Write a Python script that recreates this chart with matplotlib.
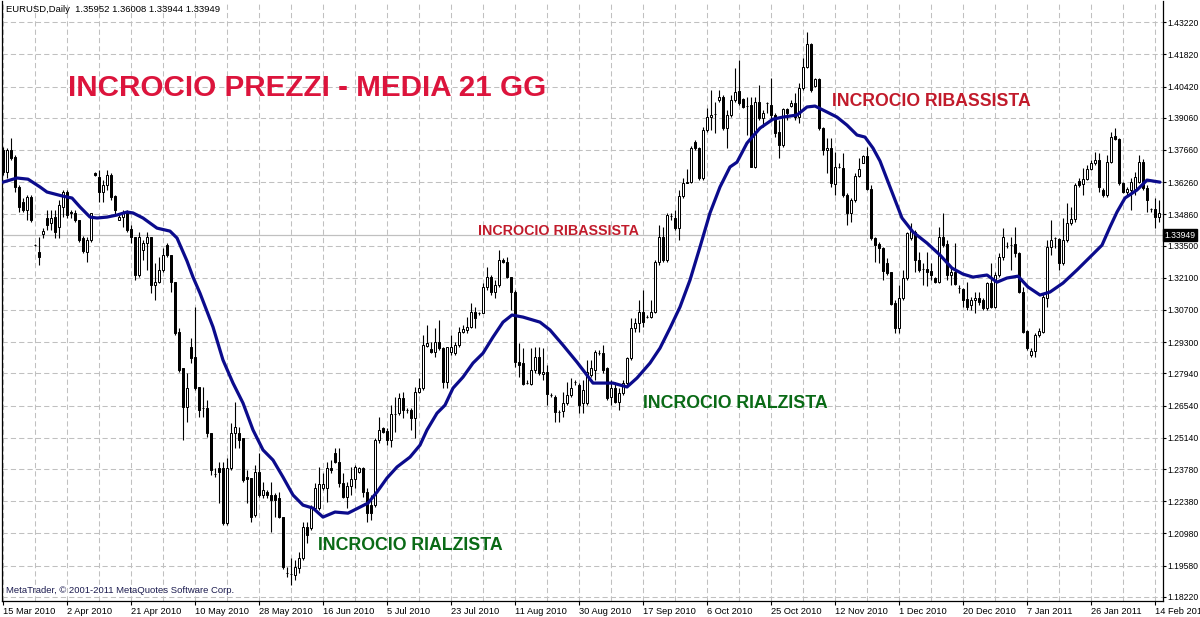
import matplotlib.pyplot as plt
from matplotlib import rcParams
from matplotlib.ticker import FixedLocator, MultipleLocator

rcParams['font.family'] = ['Liberation Sans', 'DejaVu Sans']

# EURUSD daily, one bar per trading day (15 Mar 2010 - 14 Feb 2011)
opens = [
    1.3766, 1.3670, 1.3766, 1.3735, 1.3605, 1.3539, 1.3505, 1.3561, 1.3352, 1.3322,
    1.3400, 1.3470, 1.3448, 1.3474, 1.3431, 1.3518, 1.3583, 1.3496, 1.3492, 1.3461,
    1.3383, 1.3322, 1.3374, 1.3666, 1.3648, 1.3583, 1.3613, 1.3657, 1.3565, 1.3461,
    1.3474, 1.3496, 1.3422, 1.3387, 1.3222, 1.3331, 1.3361, 1.3387, 1.3178, 1.3191,
    1.3244, 1.3352, 1.3309, 1.3191, 1.2974, 1.2817, 1.2648, 1.2909, 1.2865, 1.2735,
    1.2643, 1.2643, 1.2535, 1.2356, 1.2382, 1.2382, 1.2143, 1.2382, 1.2535, 1.2535,
    1.2513, 1.2343, 1.2339, 1.2178, 1.2365, 1.2265, 1.2278, 1.2265, 1.2265, 1.2252,
    1.2169, 1.1926, 1.1921, 1.1917, 1.1947, 1.1991, 1.2126, 1.2121, 1.2208, 1.2208,
    1.2295, 1.2295, 1.2382, 1.2448, 1.2408, 1.2317, 1.2256, 1.2304, 1.2334, 1.2365,
    1.2382, 1.2278, 1.2221, 1.2221, 1.2504, 1.2556, 1.2543, 1.2504, 1.2617, 1.2622,
    1.2687, 1.2635, 1.2635, 1.2600, 1.2713, 1.2730, 1.2913, 1.2900, 1.2887, 1.2930,
    1.2904, 1.2756, 1.2887, 1.2883, 1.2917, 1.2974, 1.2983, 1.2996, 1.3061, 1.3057,
    1.3057, 1.3170, 1.3213, 1.3148, 1.3178, 1.3287, 1.3278, 1.3213, 1.3148, 1.2843,
    1.2839, 1.2752, 1.2748, 1.2809, 1.2865, 1.2791, 1.2800, 1.2700, 1.2691, 1.2626,
    1.2630, 1.2665, 1.2700, 1.2756, 1.2743, 1.2665, 1.2665, 1.2787, 1.2809, 1.2883,
    1.2883, 1.2817, 1.2691, 1.2730, 1.2669, 1.2709, 1.2752, 1.2861, 1.2991, 1.3013,
    1.3061, 1.3039, 1.3039, 1.3061, 1.3278, 1.3387, 1.3287, 1.3478, 1.3470, 1.3426,
    1.3565, 1.3622, 1.3626, 1.3800, 1.3774, 1.3644, 1.3853, 1.3909, 1.3922, 1.3983,
    1.3996, 1.3861, 1.3918, 1.3983, 1.4022, 1.3987, 1.3957, 1.3961, 1.3692, 1.3974,
    1.3905, 1.3970, 1.3961, 1.3918, 1.3844, 1.3787, 1.3944, 1.3957, 1.3970, 1.3909,
    1.4035, 1.4127, 1.4227, 1.4044, 1.4074, 1.3861, 1.3766, 1.3774, 1.3618, 1.3692,
    1.3687, 1.3570, 1.3492, 1.3548, 1.3652, 1.3709, 1.3739, 1.3596, 1.3383, 1.3357,
    1.3339, 1.3274, 1.3235, 1.3100, 1.2991, 1.3122, 1.3209, 1.3383, 1.3409, 1.3287,
    1.3248, 1.3248, 1.3239, 1.3209, 1.3191, 1.3387, 1.3357, 1.3222, 1.3235, 1.3165,
    1.3161, 1.3117, 1.3091, 1.3113, 1.3122, 1.3113, 1.3078, 1.3187, 1.3083, 1.3222,
    1.3300, 1.3348, 1.3352, 1.3357, 1.3318, 1.3148, 1.2978, 1.2874, 1.2891, 1.2961,
    1.2974, 1.3122, 1.3344, 1.3383, 1.3378, 1.3274, 1.3374, 1.3448, 1.3465, 1.3631,
    1.3618, 1.3639, 1.3683, 1.3709, 1.3722, 1.3592, 1.3570, 1.3713, 1.3827, 1.3813,
    1.3622, 1.3583, 1.3592, 1.3596, 1.3626, 1.3713, 1.3600, 1.3509, 1.3509, 1.3474,
]
highs = [
    1.3779, 1.3774, 1.3818, 1.3744, 1.3613, 1.3557, 1.3570, 1.3570, 1.3357, 1.3387,
    1.3426, 1.3505, 1.3505, 1.3505, 1.3548, 1.3592, 1.3592, 1.3505, 1.3505, 1.3461,
    1.3391, 1.3387, 1.3492, 1.3670, 1.3679, 1.3635, 1.3679, 1.3666, 1.3570, 1.3492,
    1.3505, 1.3505, 1.3439, 1.3387, 1.3409, 1.3374, 1.3409, 1.3387, 1.3274, 1.3300,
    1.3339, 1.3361, 1.3309, 1.3191, 1.2991, 1.2817, 1.2796, 1.2948, 1.3083, 1.2735,
    1.2735, 1.2678, 1.2535, 1.2382, 1.2408, 1.2408, 1.2426, 1.2578, 1.2669, 1.2561,
    1.2513, 1.2374, 1.2339, 1.2395, 1.2448, 1.2321, 1.2287, 1.2321, 1.2274, 1.2278,
    1.2169, 1.1952, 1.1991, 1.1982, 1.2017, 1.2147, 1.2147, 1.2221, 1.2317, 1.2387,
    1.2361, 1.2408, 1.2417, 1.2469, 1.2469, 1.2361, 1.2321, 1.2387, 1.2395, 1.2387,
    1.2387, 1.2295, 1.2265, 1.2513, 1.2604, 1.2561, 1.2556, 1.2656, 1.2691, 1.2709,
    1.2713, 1.2643, 1.2643, 1.2735, 1.2774, 1.2961, 1.3004, 1.2930, 1.2991, 1.3026,
    1.2909, 1.2909, 1.2961, 1.2930, 1.2996, 1.3004, 1.3039, 1.3100, 1.3083, 1.3061,
    1.3187, 1.3257, 1.3222, 1.3200, 1.3331, 1.3296, 1.3300, 1.3213, 1.3157, 1.2926,
    1.2904, 1.2765, 1.2904, 1.2909, 1.2909, 1.2904, 1.2830, 1.2709, 1.2700, 1.2635,
    1.2713, 1.2756, 1.2774, 1.2765, 1.2752, 1.2765, 1.2852, 1.2852, 1.2896, 1.2896,
    1.2917, 1.2822, 1.2765, 1.2756, 1.2730, 1.2765, 1.2865, 1.3035, 1.3035, 1.3113,
    1.3157, 1.3048, 1.3113, 1.3287, 1.3439, 1.3431, 1.3492, 1.3492, 1.3505, 1.3592,
    1.3644, 1.3683, 1.3783, 1.3809, 1.3779, 1.3866, 1.3948, 1.4027, 1.3974, 1.4027,
    1.4005, 1.3940, 1.4005, 1.4122, 1.4157, 1.3991, 1.3996, 1.3996, 1.3996, 1.4048,
    1.3940, 1.3974, 1.4079, 1.3927, 1.3896, 1.3948, 1.3948, 1.3983, 1.4014, 1.4057,
    1.4166, 1.4279, 1.4231, 1.4079, 1.4079, 1.3866, 1.3818, 1.3818, 1.3757, 1.3709,
    1.3753, 1.3579, 1.3557, 1.3666, 1.3731, 1.3744, 1.3779, 1.3613, 1.3387, 1.3365,
    1.3344, 1.3296, 1.3235, 1.3113, 1.3178, 1.3244, 1.3409, 1.3448, 1.3418, 1.3322,
    1.3274, 1.3322, 1.3274, 1.3213, 1.3431, 1.3492, 1.3374, 1.3257, 1.3361, 1.3178,
    1.3165, 1.3191, 1.3126, 1.3148, 1.3148, 1.3122, 1.3191, 1.3274, 1.3235, 1.3318,
    1.3426, 1.3365, 1.3387, 1.3431, 1.3322, 1.3170, 1.2983, 1.2904, 1.2970, 1.2991,
    1.3144, 1.3374, 1.3461, 1.3387, 1.3383, 1.3470, 1.3535, 1.3518, 1.3622, 1.3644,
    1.3687, 1.3700, 1.3722, 1.3757, 1.3753, 1.3600, 1.3744, 1.3844, 1.3861, 1.3818,
    1.3626, 1.3605, 1.3644, 1.3670, 1.3744, 1.3726, 1.3613, 1.3513, 1.3557, 1.3548,
]
lows = [
    1.3657, 1.3644, 1.3722, 1.3583, 1.3496, 1.3496, 1.3461, 1.3452, 1.3348, 1.3265,
    1.3383, 1.3418, 1.3418, 1.3383, 1.3383, 1.3474, 1.3470, 1.3470, 1.3452, 1.3365,
    1.3318, 1.3278, 1.3365, 1.3652, 1.3539, 1.3539, 1.3592, 1.3548, 1.3483, 1.3461,
    1.3431, 1.3409, 1.3361, 1.3200, 1.3213, 1.3287, 1.3244, 1.3144, 1.3113, 1.3187,
    1.3235, 1.3300, 1.3148, 1.2961, 1.2800, 1.2504, 1.2582, 1.2839, 1.2722, 1.2604,
    1.2604, 1.2517, 1.2352, 1.2343, 1.2230, 1.2134, 1.2134, 1.2374, 1.2469, 1.2469,
    1.2321, 1.2230, 1.2147, 1.2169, 1.2256, 1.2252, 1.2252, 1.2104, 1.2169, 1.2165,
    1.1943, 1.1908, 1.1873, 1.1895, 1.1926, 1.1982, 1.2056, 1.2113, 1.2200, 1.2200,
    1.2287, 1.2234, 1.2361, 1.2404, 1.2300, 1.2252, 1.2208, 1.2265, 1.2295, 1.2361,
    1.2256, 1.2147, 1.2156, 1.2213, 1.2491, 1.2535, 1.2482, 1.2474, 1.2539, 1.2613,
    1.2600, 1.2622, 1.2548, 1.2513, 1.2709, 1.2722, 1.2909, 1.2883, 1.2865, 1.2896,
    1.2730, 1.2730, 1.2874, 1.2874, 1.2909, 1.2970, 1.2970, 1.2991, 1.2991, 1.3048,
    1.3057, 1.3157, 1.3135, 1.3122, 1.3170, 1.3274, 1.3209, 1.3070, 1.2822, 1.2778,
    1.2743, 1.2748, 1.2743, 1.2796, 1.2787, 1.2765, 1.2656, 1.2691, 1.2582, 1.2582,
    1.2604, 1.2656, 1.2691, 1.2743, 1.2622, 1.2622, 1.2656, 1.2778, 1.2765, 1.2874,
    1.2796, 1.2678, 1.2656, 1.2665, 1.2635, 1.2700, 1.2743, 1.2852, 1.2974, 1.2974,
    1.2996, 1.3035, 1.3035, 1.3057, 1.3265, 1.3278, 1.3278, 1.3461, 1.3418, 1.3374,
    1.3557, 1.3622, 1.3622, 1.3766, 1.3635, 1.3635, 1.3844, 1.3853, 1.3840, 1.3974,
    1.3853, 1.3774, 1.3909, 1.3974, 1.3961, 1.3948, 1.3831, 1.3692, 1.3687, 1.3896,
    1.3866, 1.3927, 1.3896, 1.3822, 1.3731, 1.3779, 1.3896, 1.3953, 1.3896, 1.3883,
    1.4027, 1.4122, 1.4018, 1.4040, 1.3853, 1.3744, 1.3666, 1.3605, 1.3570, 1.3687,
    1.3561, 1.3439, 1.3452, 1.3539, 1.3648, 1.3709, 1.3592, 1.3374, 1.3278, 1.3274,
    1.3200, 1.3222, 1.3091, 1.2970, 1.2970, 1.3113, 1.3200, 1.3374, 1.3235, 1.3235,
    1.3178, 1.3174, 1.3200, 1.3187, 1.3187, 1.3344, 1.3200, 1.3178, 1.3178, 1.3144,
    1.3083, 1.3070, 1.3070, 1.3057, 1.3091, 1.3070, 1.3070, 1.3078, 1.3078, 1.3213,
    1.3287, 1.3339, 1.3244, 1.3300, 1.3144, 1.2970, 1.2896, 1.2865, 1.2865, 1.2953,
    1.2970, 1.3083, 1.3309, 1.3339, 1.3244, 1.3265, 1.3365, 1.3439, 1.3452, 1.3605,
    1.3570, 1.3635, 1.3679, 1.3700, 1.3583, 1.3561, 1.3561, 1.3709, 1.3809, 1.3613,
    1.3579, 1.3570, 1.3505, 1.3570, 1.3622, 1.3592, 1.3496, 1.3496, 1.3426, 1.3452,
]
closes = [
    1.3670, 1.3766, 1.3731, 1.3605, 1.3518, 1.3505, 1.3561, 1.3461, 1.3352, 1.3300,
    1.3413, 1.3439, 1.3470, 1.3409, 1.3526, 1.3583, 1.3483, 1.3492, 1.3461, 1.3374,
    1.3326, 1.3374, 1.3492, 1.3657, 1.3583, 1.3613, 1.3657, 1.3561, 1.3505, 1.3474,
    1.3496, 1.3418, 1.3387, 1.3222, 1.3387, 1.3361, 1.3387, 1.3178, 1.3191, 1.3244,
    1.3309, 1.3309, 1.3191, 1.2970, 1.2809, 1.2648, 1.2730, 1.2861, 1.2730, 1.2635,
    1.2643, 1.2535, 1.2374, 1.2356, 1.2365, 1.2143, 1.2382, 1.2535, 1.2561, 1.2504,
    1.2330, 1.2334, 1.2169, 1.2365, 1.2265, 1.2287, 1.2265, 1.2243, 1.2243, 1.2169,
    1.1952, 1.1926, 1.1921, 1.1952, 1.1991, 1.2126, 1.2091, 1.2208, 1.2295, 1.2313,
    1.2313, 1.2382, 1.2374, 1.2408, 1.2317, 1.2256, 1.2304, 1.2334, 1.2387, 1.2382,
    1.2278, 1.2187, 1.2187, 1.2504, 1.2548, 1.2539, 1.2504, 1.2617, 1.2617, 1.2687,
    1.2635, 1.2635, 1.2600, 1.2713, 1.2730, 1.2917, 1.2926, 1.2887, 1.2930, 1.2904,
    1.2756, 1.2909, 1.2909, 1.2917, 1.2974, 1.2987, 1.2996, 1.3061, 1.3035, 1.3057,
    1.3170, 1.3213, 1.3148, 1.3178, 1.3287, 1.3278, 1.3213, 1.3148, 1.2843, 1.2830,
    1.2748, 1.2752, 1.2809, 1.2865, 1.2796, 1.2800, 1.2704, 1.2700, 1.2626, 1.2626,
    1.2665, 1.2700, 1.2730, 1.2756, 1.2656, 1.2722, 1.2800, 1.2817, 1.2887, 1.2883,
    1.2809, 1.2687, 1.2730, 1.2669, 1.2709, 1.2752, 1.2861, 1.2991, 1.3013, 1.3061,
    1.3017, 1.3039, 1.3061, 1.3278, 1.3387, 1.3287, 1.3483, 1.3478, 1.3426, 1.3565,
    1.3622, 1.3626, 1.3774, 1.3774, 1.3644, 1.3853, 1.3909, 1.3918, 1.3922, 1.3996,
    1.3861, 1.3918, 1.3983, 1.4018, 1.3970, 1.3953, 1.3957, 1.3692, 1.3974, 1.3905,
    1.3927, 1.3970, 1.3918, 1.3840, 1.3787, 1.3944, 1.3927, 1.3970, 1.3909, 1.4035,
    1.4127, 1.4227, 1.4027, 1.4074, 1.3861, 1.3766, 1.3774, 1.3622, 1.3692, 1.3692,
    1.3570, 1.3492, 1.3548, 1.3652, 1.3683, 1.3739, 1.3596, 1.3383, 1.3352, 1.3339,
    1.3239, 1.3231, 1.3096, 1.2991, 1.3122, 1.3209, 1.3405, 1.3413, 1.3287, 1.3244,
    1.3248, 1.3235, 1.3222, 1.3191, 1.3387, 1.3352, 1.3222, 1.3235, 1.3183, 1.3165,
    1.3113, 1.3083, 1.3113, 1.3122, 1.3104, 1.3078, 1.3187, 1.3083, 1.3222, 1.3300,
    1.3387, 1.3348, 1.3352, 1.3318, 1.3148, 1.2974, 1.2904, 1.2891, 1.2961, 1.2978,
    1.3126, 1.3344, 1.3374, 1.3383, 1.3274, 1.3374, 1.3448, 1.3465, 1.3613, 1.3613,
    1.3639, 1.3683, 1.3709, 1.3722, 1.3605, 1.3570, 1.3713, 1.3822, 1.3813, 1.3622,
    1.3583, 1.3596, 1.3626, 1.3648, 1.3713, 1.3600, 1.3548, 1.3509, 1.3474, 1.3492,
]

# media mobile 21 gg (posizione in barre, valore)
ma_bars = [
    0.0, 3.5, 6.25, 9.25, 11.0, 15.0, 17.25, 19.25, 21.75, 23.5,
    26.0, 28.5, 31.0, 32.5, 35.0, 38.5, 41.75, 43.5, 46.0, 47.5,
    49.25, 52.5, 55.0, 57.5, 60.0, 62.5, 65.0, 67.5, 70.0, 72.5,
    75.0, 77.5, 80.0, 83.0, 86.25, 88.75, 91.25, 93.5, 96.0, 98.5,
    101.75, 104.25, 106.0, 108.5, 110.5, 112.5, 115.0, 117.5, 120.0, 122.5,
    125.0, 127.25, 130.0, 134.25, 136.75, 140.0, 143.5, 147.5, 152.5, 156.0,
    158.5, 161.75, 164.25, 166.75, 169.25, 171.75, 174.25, 176.75, 179.25, 181.75,
    183.5, 186.0, 189.25, 192.5, 195.0, 198.5, 201.0, 203.0, 206.0, 208.5,
    211.0, 213.5, 215.5, 217.5, 219.25, 221.75, 224.75, 227.5, 231.0, 234.25,
    237.25, 240.0, 242.5, 246.0, 248.5, 251.0, 253.75, 256.25, 259.25, 261.75,
    265.0, 268.5, 271.75, 274.75, 276.75, 278.5, 280.5, 283.5, 286.0, 289.25,
]
ma_values = [
    1.3626, 1.3644, 1.3639, 1.3605, 1.3583, 1.3565, 1.3557, 1.3518, 1.3474, 1.3470,
    1.3474, 1.3483, 1.3496, 1.3492, 1.3470, 1.3426, 1.3413, 1.3383, 1.3283, 1.3213,
    1.3143, 1.2996, 1.2852, 1.2752, 1.2665, 1.2548, 1.2461, 1.2417, 1.2343, 1.2265,
    1.2221, 1.2208, 1.2169, 1.2191, 1.2186, 1.2208, 1.2230, 1.2278, 1.2339, 1.2387,
    1.2430, 1.2482, 1.2548, 1.2621, 1.2656, 1.2730, 1.2778, 1.2839, 1.2882, 1.2952,
    1.3017, 1.3048, 1.3039, 1.3017, 1.2983, 1.2917, 1.2843, 1.2752, 1.2752, 1.2735,
    1.2774, 1.2839, 1.2904, 1.2991, 1.3083, 1.3200, 1.3344, 1.3492, 1.3605, 1.3692,
    1.3713, 1.3796, 1.3861, 1.3900, 1.3909, 1.3918, 1.3953, 1.3957, 1.3931, 1.3909,
    1.3874, 1.3831, 1.3822, 1.3774, 1.3718, 1.3605, 1.3470, 1.3409, 1.3361, 1.3309,
    1.3252, 1.3226, 1.3213, 1.3222, 1.3191, 1.3209, 1.3217, 1.3170, 1.3135, 1.3148,
    1.3187, 1.3244, 1.3300, 1.3352, 1.3431, 1.3496, 1.3557, 1.3592, 1.3635, 1.3626,
]

# etichette assi
date_bars = list(range(0, 289, 16))
date_labels = ['15 Mar 2010', '2 Apr 2010', '21 Apr 2010', '10 May 2010', '28 May 2010',
               '16 Jun 2010', '5 Jul 2010', '23 Jul 2010', '11 Aug 2010', '30 Aug 2010',
               '17 Sep 2010', '6 Oct 2010', '25 Oct 2010', '12 Nov 2010', '1 Dec 2010',
               '20 Dec 2010', '7 Jan 2011', '26 Jan 2011', '14 Feb 2011']
price_ticks = [1.43220, 1.41820, 1.40420, 1.39060, 1.37660, 1.36260, 1.34860, 1.33500,
               1.32100, 1.30700, 1.29300, 1.27940, 1.26540, 1.25140, 1.23780, 1.22380,
               1.20980, 1.19580, 1.18220]
bid = 1.33949

fig = plt.figure(figsize=(12, 6.17), dpi=100)
ax = fig.add_axes([2 / 1200, 16 / 617, 1161 / 1200, 600 / 617])

idx = list(range(len(closes)))
body_bottom = [min(o, c) for o, c in zip(opens, closes)]
body_height = [abs(c - o) for o, c in zip(opens, closes)]
body_color = ['white' if c >= o else 'black' for o, c in zip(opens, closes)]

# candele
ax.vlines(idx, lows, highs, color='black', linewidth=0.8, zorder=2)
ax.bar(idx, body_height, bottom=body_bottom, width=0.55, color=body_color,
       edgecolor='black', linewidth=0.72, zorder=3)

# media mobile
ax.plot(ma_bars, ma_values, color='#0B0B8C', linewidth=2.3, zorder=4,
        solid_joinstyle='round', solid_capstyle='round')

# linea del prezzo corrente
ax.axhline(bid, color='#C0C0C0', linewidth=0.9, zorder=1)
ax.text(1.001, bid, '%.5f' % bid, transform=ax.get_yaxis_transform(), color='white',
        fontsize=6.2, va='center', ha='left', clip_on=False,
        bbox=dict(facecolor='black', edgecolor='black', pad=1.0))

ax.set_xlim(-0.25, 290)
ax.set_ylim(1.1804, 1.4414)

ax.xaxis.set_major_locator(FixedLocator(date_bars))
ax.xaxis.set_minor_locator(MultipleLocator(8))
ax.set_xticklabels(date_labels, ha='left')
ax.yaxis.tick_right()
ax.set_yticks(price_ticks)
ax.set_yticklabels(['%.5f' % p for p in price_ticks])
ax.tick_params(axis='x', labelsize=6.7, length=3, width=0.8, pad=1.5, color='black')
ax.tick_params(axis='y', labelsize=6.2, length=2.2, width=0.8, pad=1.0, color='black')
ax.tick_params(axis='x', which='minor', length=0)

ax.grid(True, which='both', color='#C0C0C0', linestyle=(0, (5, 3)), linewidth=0.75, zorder=0)
ax.set_axisbelow(True)
ax.spines['top'].set_visible(False)
for side in ['left', 'right', 'bottom']:
    ax.spines[side].set_linewidth(0.9)
    ax.spines[side].set_color('black')

# testi
ax.text(0.0035, 0.985, 'EURUSD,Daily  1.35952 1.36008 1.33944 1.33949', transform=ax.transAxes,
        fontsize=6.8, va='center', ha='left', color='black')
ax.text(0.0035, 0.017, 'MetaTrader, \u00a9 2001-2011 MetaQuotes Software Corp.',
        transform=ax.transAxes, fontsize=6.8, va='center', ha='left', color='#1C1C50')

ax.text(16.25, 1.4000, 'INCROCIO PREZZI - MEDIA 21 GG', fontsize=21.3, fontweight='bold',
        color='#DC143C', va='baseline', ha='left', zorder=5)
ax.text(207.2, 1.3957, 'INCROCIO RIBASSISTA', fontsize=12.7, fontweight='bold',
        color='#C11B2B', va='baseline', ha='left', zorder=5)
ax.text(118.75, 1.3396, 'INCROCIO RIBASSISTA', fontsize=10.3, fontweight='bold',
        color='#C11B2B', va='baseline', ha='left', zorder=5)
ax.text(160.0, 1.2643, 'INCROCIO RIALZISTA', fontsize=12.8, fontweight='bold',
        color='#0A6A16', va='baseline', ha='left', zorder=5)
ax.text(78.75, 1.2026, 'INCROCIO RIALZISTA', fontsize=12.8, fontweight='bold',
        color='#0A6A16', va='baseline', ha='left', zorder=5)

plt.savefig('out.png', dpi=100)
